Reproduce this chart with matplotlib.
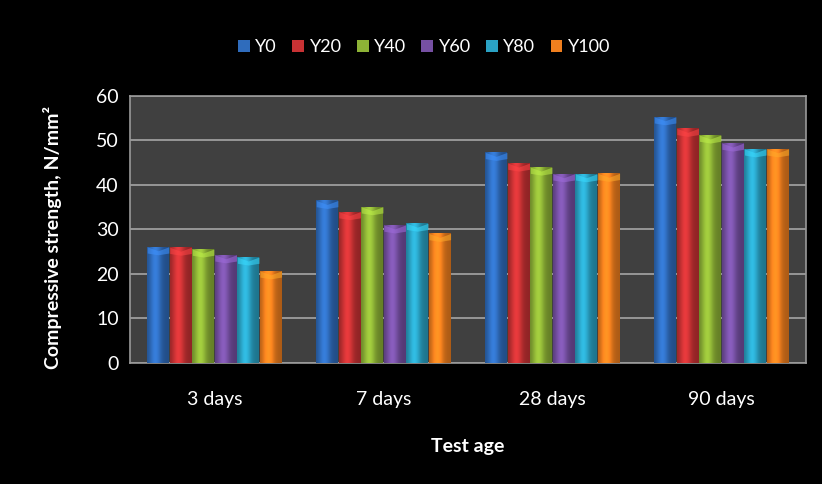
import matplotlib.pyplot as plt
import matplotlib.colors as mcolors
import numpy as np

ages = ["3 days", "7 days", "28 days", "90 days"]
series = ["Y0", "Y20", "Y40", "Y60", "Y80", "Y100"]
y0 = [26.1, 36.5, 47.3, 55.3]
y20 = [26.0, 34.0, 44.9, 52.7]
y40 = [25.6, 35.1, 44.0, 51.2]
y60 = [24.3, 31.0, 42.5, 49.4]
y80 = [23.8, 31.4, 42.5, 48.1]
y100 = [20.7, 29.1, 42.6, 48.1]
values = [y0, y20, y40, y60, y80, y100]
colors = ["#2f6cbc", "#c83234", "#8db236", "#7650a3", "#2aa2c4", "#f07f1e"]

plt.rcParams['font.family'] = ['Lato', 'DejaVu Sans']

fig = plt.figure(figsize=(8.22, 4.84), dpi=100, facecolor="black")
ax = fig.add_axes([0.158, 0.25, 0.8225, 0.552])
ax.set_facecolor("#404040")

x = np.arange(len(ages))
group = 0.80
w = group / len(series)

# horizontal shading profile for a rounded bar look
prof = np.linspace(0, 1, 40)
shade = 0.72 + 0.45 * np.exp(-((prof - 0.38) / 0.28) ** 2)

for i, (name, vals, c) in enumerate(zip(series, values, colors)):
    offs = x - group / 2 + w * (i + 0.5)
    bars = ax.bar(offs, vals, width=w * 0.96, color=c, label=name, zorder=3,
                  edgecolor="none")
    rgb = np.array(mcolors.to_rgb(c))
    img = np.clip(rgb[None, None, :] * shade[None, :, None], 0, 1)
    for b in bars:
        bx, bw, bh = b.get_x(), b.get_width(), b.get_height()
        im = ax.imshow(img, extent=[bx, bx + bw, 0, bh], aspect="auto",
                       zorder=3.5, interpolation="bilinear")
        im.set_clip_path(b)
        # lighter cap at the top of each bar
        ax.fill_between([bx, bx + bw / 2, bx + bw], [bh, bh - 0.9, bh], [bh - 1.4, bh - 1.8, bh - 1.4],
                        color=mcolors.to_hex(np.clip(rgb * 1.35, 0, 1)), alpha=0.55,
                        zorder=4, linewidth=0)

ax.set_xlim(-0.5, len(ages) - 0.5)
ax.set_ylim(0, 60)
ax.set_yticks(np.arange(0, 61, 10))
ax.set_xticks(x)
ax.set_xticklabels(ages)
ax.yaxis.grid(True, color="#a6a6a6", linewidth=1.2, zorder=1)
ax.set_axisbelow(True)
for s in ax.spines.values():
    s.set_color("#9a9a9a")
    s.set_linewidth(1.2)
ax.tick_params(axis="both", length=0, colors="white", labelsize=14)
ax.tick_params(axis="y", pad=8)
ax.tick_params(axis="x", pad=20)

ax.set_xlabel("Test age", color="white", fontsize=14, fontweight="bold", labelpad=22)
fig.text(52 / 822, 1 - 237 / 484, "Compressive strength, N/mm\u00b2", color="white",
         fontsize=14, fontweight="bold", rotation=90, ha="center", va="center")

leg = fig.legend(loc="center", bbox_to_anchor=(0.516, 0.903), ncol=6, frameon=False,
                 handlelength=0.65, handleheight=0.65, handletextpad=0.3,
                 columnspacing=0.85, fontsize=13, labelcolor="white")

fig.savefig("out.png", dpi=100, facecolor="black")
